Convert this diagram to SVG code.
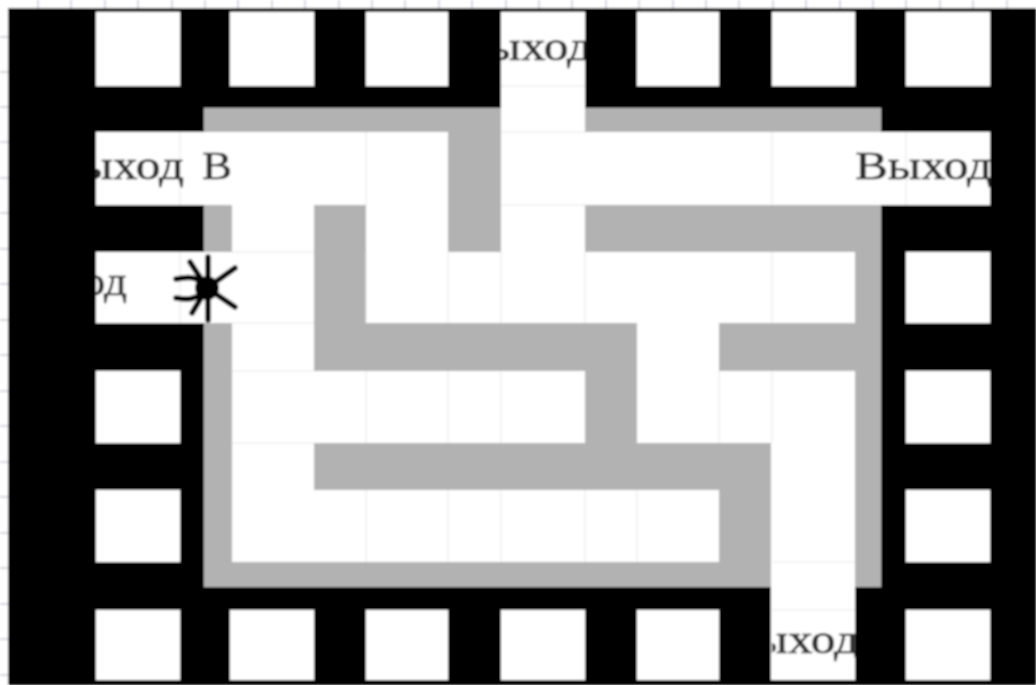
<svg xmlns="http://www.w3.org/2000/svg" width="1036" height="685" viewBox="0 0 1036 685">
<style>
.k{fill:#000}.w{fill:#fff}.g{fill:#b2b2b2}
.l{stroke:#e6e6e6;stroke-width:1;fill:none}
.m{stroke:#c8c8d8;stroke-width:1.5;fill:none}
.t{font-family:"Liberation Serif","Times New Roman",serif;font-size:40px;fill:#2e2e2e;stroke:#2e2e2e;stroke-width:0.6}
.s{stroke:#000;stroke-width:5.5;fill:none;stroke-linecap:round}
</style>
<defs>
<filter id="b" x="0" y="0" width="100%" height="100%"><feGaussianBlur stdDeviation="0.9"/></filter>
<clipPath id="cl"><rect x="96" y="132" width="200" height="73"/></clipPath>
<clipPath id="cl2"><rect x="96" y="252" width="100" height="71"/></clipPath>
<clipPath id="ct"><rect x="501" y="12" width="84" height="80"/></clipPath>
<clipPath id="cb"><rect x="772" y="610" width="83" height="70"/></clipPath>
<clipPath id="cr"><rect x="840" y="132" width="150" height="73"/></clipPath>
</defs>
<g filter="url(#b)">
<rect class="w" width="1036" height="685"/>
<path class="m" d="M0 37H8M0 72H8M0 107H8M0 142H8M0 178H8M0 213H8M0 249H8M0 284H8M0 320H8M0 355H8M0 391H8M0 426H8M0 462H8M0 497H8M0 533H8M0 568H8M0 604H8M0 639H8M0 675H8"/>
<path class="m" d="M38 0V8M71 0V8M105 0V8M138 0V8M172 0V8M205 0V8M238 0V8M272 0V8M305 0V8M339 0V8M372 0V8M405 0V8M439 0V8M472 0V8M506 0V8M539 0V8M572 0V8M606 0V8M639 0V8M673 0V8M706 0V8M739 0V8M773 0V8M806 0V8M840 0V8M873 0V8M906 0V8M940 0V8M973 0V8M1007 0V8"/>
<rect class="k" x="8" y="8" width="1028" height="677"/>
<g id="windows" class="w">
<rect x="96" y="12" width="84" height="74"/><rect x="230" y="12" width="84" height="74"/><rect x="366" y="12" width="82" height="74"/><rect x="637" y="12" width="82" height="74"/><rect x="772" y="12" width="83" height="74"/><rect x="906" y="12" width="84" height="74"/>
<rect x="906" y="252" width="84" height="71"/><rect x="906" y="371" width="84" height="72"/><rect x="906" y="490" width="84" height="72"/>
<rect x="96" y="371" width="84" height="72"/><rect x="96" y="490" width="84" height="72"/>
<rect x="96" y="610" width="84" height="70"/><rect x="230" y="610" width="84" height="70"/><rect x="366" y="610" width="82" height="70"/><rect x="501" y="610" width="84" height="70"/><rect x="637" y="610" width="82" height="70"/><rect x="906" y="610" width="84" height="70"/>
</g>
<rect id="maze-wall" class="g" x="204" y="108" width="677" height="479"/>
<g id="corridors" class="w">
<rect x="96" y="132" width="352" height="73"/>
<rect x="501" y="12" width="84" height="240"/>
<rect x="585" y="132" width="405" height="73"/>
<rect x="232" y="205" width="82" height="357"/>
<rect x="96" y="252" width="218" height="71"/>
<rect x="366" y="205" width="82" height="118"/>
<rect x="366" y="252" width="489" height="71"/>
<rect x="637" y="323" width="82" height="48"/>
<rect x="232" y="371" width="353" height="72"/>
<rect x="637" y="371" width="218" height="72"/>
<rect x="232" y="490" width="487" height="72"/>
<rect x="771" y="443" width="84" height="237"/>
</g>
<path class="l" d="M180 132V205M180 252V323M366 132V205M366 252V323M448 252V323M501 252V323M585 252V323M772 132V205M772 252V323M906 132V205M366 371V443M448 371V443M501 371V443M719 371V443M772 371V443M366 490V562M448 490V562M501 490V562M585 490V562M637 490V562M232 252H314M232 323H314M232 371H314M232 443H314M501 86H585M501 132H585M501 205H585M772 610H855M772 562H855"/>
<g id="labels">
<text class="t" x="47" y="179" textLength="137" lengthAdjust="spacingAndGlyphs" clip-path="url(#cl)">Выход</text>
<text class="t" x="202" y="179" textLength="30" lengthAdjust="spacingAndGlyphs">В</text>
<text class="t" x="1" y="295" textLength="126" lengthAdjust="spacingAndGlyphs" clip-path="url(#cl2)">Выход</text>
<text class="t" x="455" y="60" textLength="137" lengthAdjust="spacingAndGlyphs" clip-path="url(#ct)">Выход</text>
<text class="t" x="722" y="653" textLength="137" lengthAdjust="spacingAndGlyphs" clip-path="url(#cb)">Выход</text>
<text class="t" x="855" y="179" textLength="137" lengthAdjust="spacingAndGlyphs" clip-path="url(#cr)">Выход</text>
</g>
<g id="spider">
<circle cx="207" cy="288" r="12" fill="#000"/>
<path class="s" d="M208 257V320M207 288L190 262M207 288L235 268M207 288L235 307M207 288L192 313M207 288C196 276 190 276 176 279M207 288C196 300 190 300 176 298"/>
</g>
</g>
</svg>
